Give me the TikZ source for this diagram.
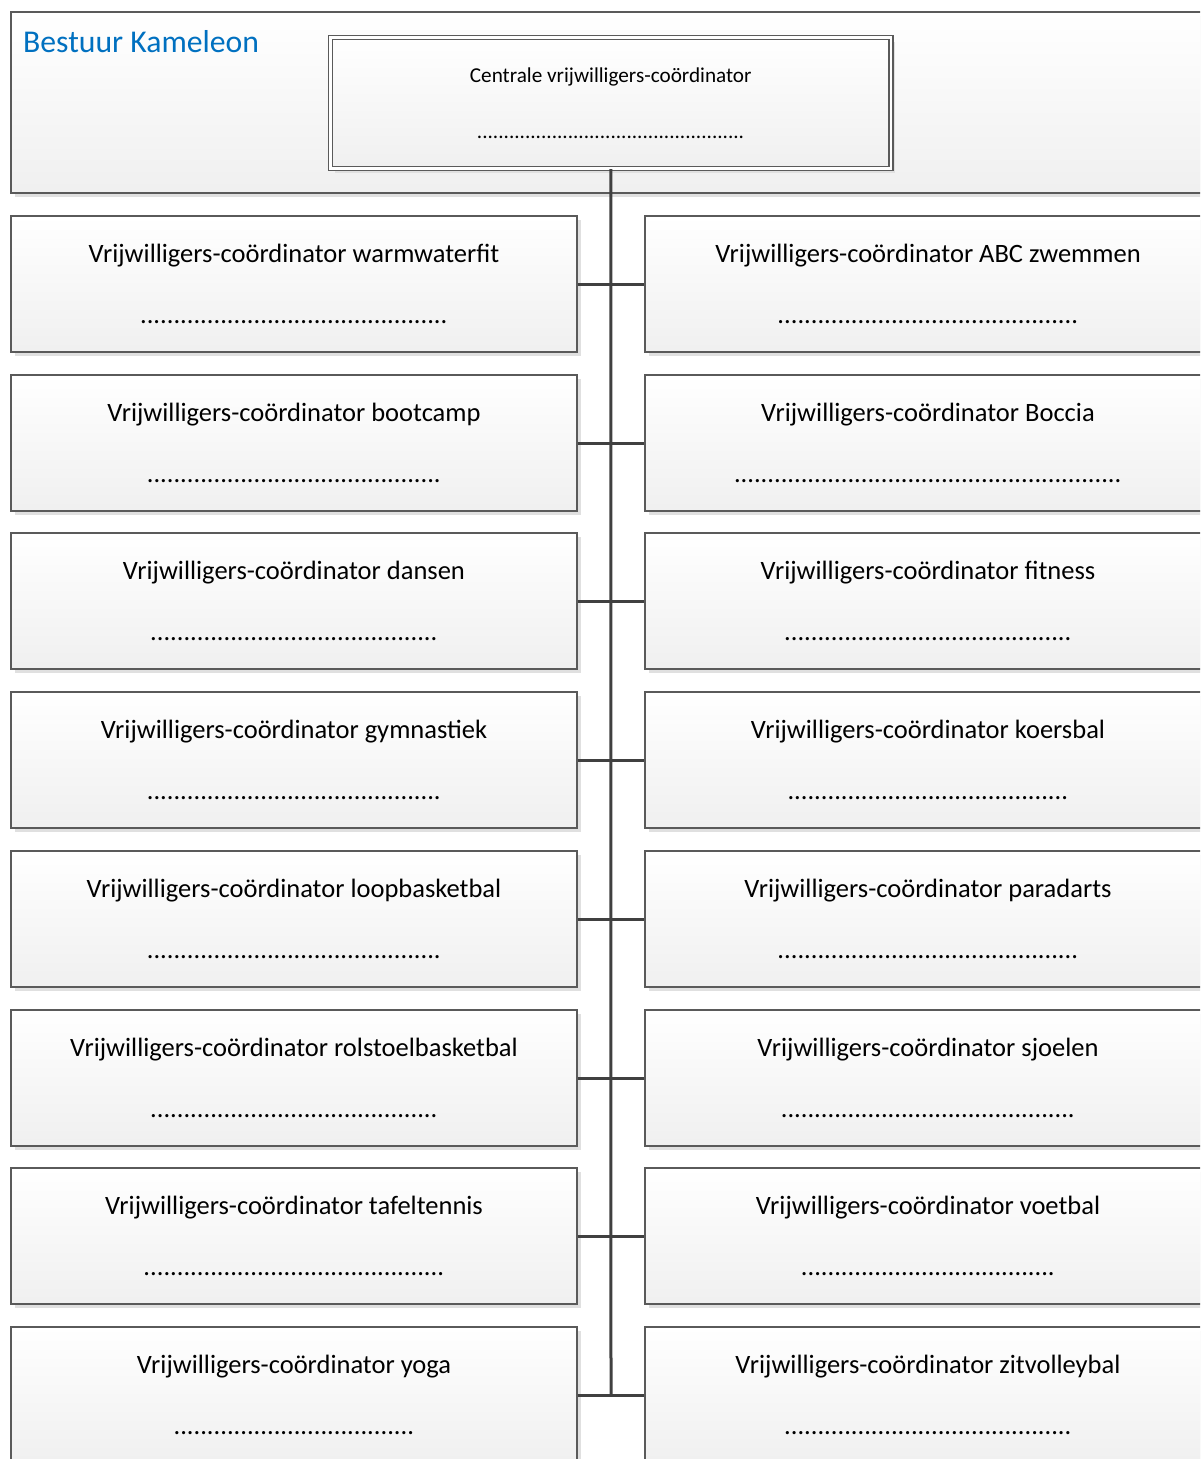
\documentclass[tikz,border=0pt]{standalone}
\usepackage{fontspec}
\setmainfont{Carlito}
\usetikzlibrary{shadows}

\definecolor{lijn}{HTML}{5A5A5A}
\definecolor{stam}{HTML}{404040}
\definecolor{kop}{HTML}{0070C0}
\newcommand{\stippels}[1]{\foreach \n in {1,...,#1}{.}}

\begin{document}
\begin{tikzpicture}[x=1pt, y=-1pt,
  schaduw/.style={drop shadow={shadow xshift=4pt, shadow yshift=-4pt, fill=black!12, opacity=1}},
  vak/.style={draw=lijn, line width=1.2pt, top color=white, bottom color=black!6, schaduw,
    minimum width=566pt, minimum height=136pt, inner sep=0pt, align=center,
    font=\fontsize{26.5}{32}\selectfont},
  verbinding/.style={draw=stam, line width=3pt}]
\clip (0,0) rectangle (1200,1459);

% bestuur en centrale coordinator
\node[vak, minimum width=1200pt, minimum height=181pt] (bestuur) at (611,102.5) {};
\node[anchor=base west, inner sep=0pt, text=kop, font=\fontsize{31.7}{38}\selectfont] (titel) at (23,52) {Bestuur Kameleon};
\node[vak, double=white, double distance=2.8pt, minimum width=560.5pt, minimum height=131pt,
  font=\fontsize{21.2}{25.5}\selectfont] (centraal) at (610.75,103) {Centrale vrijwilligers-coördinator\\[30pt]\stippels{50}};

% links
\node[vak] (l1) at (294,284) {Vrijwilligers-coördinator warmwaterfit\\[29pt]\stippels{46}};
\node[vak] (l2) at (294,443) {Vrijwilligers-coördinator bootcamp\\[29pt]\stippels{44}};
\node[vak] (l3) at (294,601) {Vrijwilligers-coördinator dansen\\[29pt]\stippels{43}};
\node[vak] (l4) at (294,760) {Vrijwilligers-coördinator gymnastiek\\[29pt]\stippels{44}};
\node[vak] (l5) at (294,919) {Vrijwilligers-coördinator loopbasketbal\\[29pt]\stippels{44}};
\node[vak] (l6) at (294,1078) {Vrijwilligers-coördinator rolstoelbasketbal\\[29pt]\stippels{43}};
\node[vak] (l7) at (294,1236) {Vrijwilligers-coördinator tafeltennis\\[29pt]\stippels{45}};
\node[vak] (l8) at (294,1395) {Vrijwilligers-coördinator yoga\\[29pt]\stippels{36}};

% rechts
\node[vak] (r1) at (928,284) {Vrijwilligers-coördinator ABC zwemmen\\[29pt]\stippels{45}};
\node[vak] (r2) at (928,443) {Vrijwilligers-coördinator Boccia\\[29pt]\stippels{58}};
\node[vak] (r3) at (928,601) {Vrijwilligers-coördinator fitness\\[29pt]\stippels{43}};
\node[vak] (r4) at (928,760) {Vrijwilligers-coördinator koersbal\\[29pt]\stippels{42}};
\node[vak] (r5) at (928,919) {Vrijwilligers-coördinator paradarts\\[29pt]\stippels{45}};
\node[vak] (r6) at (928,1078) {Vrijwilligers-coördinator sjoelen\\[29pt]\stippels{44}};
\node[vak] (r7) at (928,1236) {Vrijwilligers-coördinator voetbal\\[29pt]\stippels{38}};
\node[vak] (r8) at (928,1395) {Vrijwilligers-coördinator zitvolleybal\\[29pt]\stippels{43}};

% lijnen
\coordinate (onder) at (611,1395);
\draw[verbinding] (centraal.south) -- (onder);
\draw[verbinding] (l1.east) -- (r1.west);
\draw[verbinding] (l2.east) -- (r2.west);
\draw[verbinding] (l3.east) -- (r3.west);
\draw[verbinding] (l4.east) -- (r4.west);
\draw[verbinding] (l5.east) -- (r5.west);
\draw[verbinding] (l6.east) -- (r6.west);
\draw[verbinding] (l7.east) -- (r7.west);
\draw[verbinding] (l8.east) -- (r8.west);
\end{tikzpicture}
\end{document}
